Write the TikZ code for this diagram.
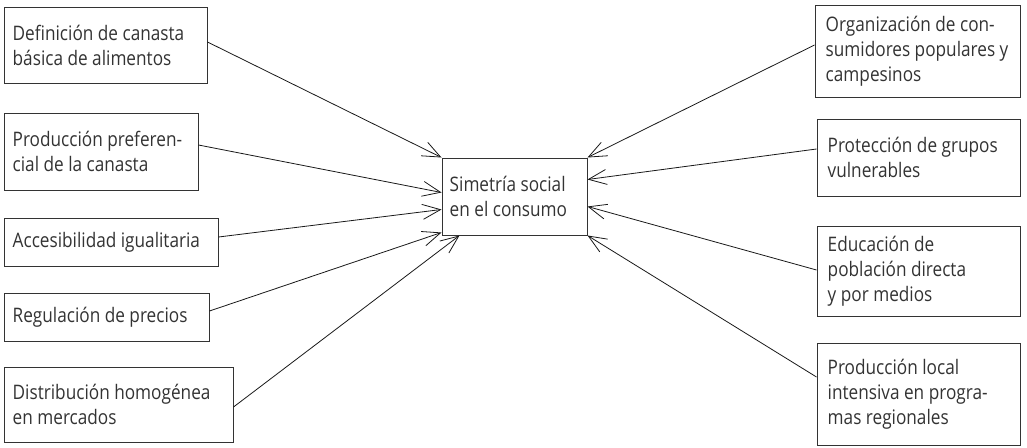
\documentclass[tikz,border=0pt]{standalone}
\usepackage{fontspec}
\setmainfont[FakeStretch=0.86]{Open Sans}
\usetikzlibrary{arrows.meta}
\begin{document}
\begin{tikzpicture}[x=1pt,y=-1pt,
  box/.style={draw=black!80, line width=1pt, inner sep=0pt},
  lbl/.style={anchor=west, align=left, inner sep=0pt, font=\fontsize{20}{25}\selectfont, text=black!80},
  arr/.style={-{Straight Barb[length=18pt,width=15pt]}, line width=0.8pt, black!90}]
\useasboundingbox (0,0) rectangle (1027,447);
% left boxes
\node[box, minimum width=203pt, minimum height=76pt] (b1) at (105.5,45) {};
\node[lbl] (t1) at ([xshift=9pt]b1.west) {Definición de canasta\\básica de alimentos};
\node[box, minimum width=194pt, minimum height=77pt] (b2) at (101,151.5) {};
\node[lbl] (t2) at ([xshift=9pt]b2.west) {Producción preferen-\\cial de la canasta};
\node[box, minimum width=214pt, minimum height=48pt] (b3) at (111,242) {};
\node[lbl] (t3) at ([xshift=9pt]b3.west) {Accesibilidad igualitaria};
\node[box, minimum width=205pt, minimum height=48pt] (b4) at (106.5,317) {};
\node[lbl] (t4) at ([xshift=9pt]b4.west) {Regulación de precios};
\node[box, minimum width=229pt, minimum height=75pt] (b5) at (118.5,404.5) {};
\node[lbl] (t5) at ([xshift=9pt]b5.west) {Distribución homogénea\\en mercados};
% center
\node[box, minimum width=145pt, minimum height=77pt] (c) at (514.5,196.5) {};
\node[lbl] (tc) at ([xshift=8pt]c.west) {Simetría social\\en el consumo};
% right boxes
\node[box, minimum width=205pt, minimum height=92pt] (r1) at (917.5,51) {};
\node[lbl] (s1) at ([xshift=11pt]r1.west) {Organización de con-\\sumidores populares y\\campesinos};
\node[box, minimum width=203pt, minimum height=77pt] (r2) at (918.5,157.5) {};
\node[lbl] (s2) at ([xshift=11pt]r2.west) {Protección de grupos\\vulnerables};
\node[box, minimum width=203pt, minimum height=90pt] (r3) at (918.5,271) {};
\node[lbl] (s3) at ([xshift=11pt]r3.west) {Educación de\\población directa\\y por medios};
\node[box, minimum width=203pt, minimum height=102pt] (r4) at (918.5,394) {};
\node[lbl] (s4) at ([xshift=11pt]r4.west) {Producción local\\intensiva en progra-\\mas regionales};
% arrows
\draw[arr] ([yshift=3pt]b1.east) -- (c.north west);
\draw[arr] ([yshift=6.5pt]b2.east) -- ([yshift=-35pt]c.north west);
\draw[arr] ([yshift=5pt]b3.east) -- ([yshift=-52pt]c.north west);
\draw[arr] ([yshift=6pt]b4.east) -- ([yshift=3pt]c.south west);
\draw[arr] ([yshift=-2.5pt]b5.east) -- ([xshift=18pt]c.south west);
\draw[arr] ([yshift=6pt]r1.west) -- (c.north east);
\draw[arr] ([yshift=8.5pt]r2.west) -- ([yshift=-22pt]c.north east);
\draw[arr] ([yshift=1pt]r3.west) -- ([yshift=-49pt]c.north east);
\draw[arr] ([yshift=17pt]r4.west) -- (c.south east);
\end{tikzpicture}
\end{document}
